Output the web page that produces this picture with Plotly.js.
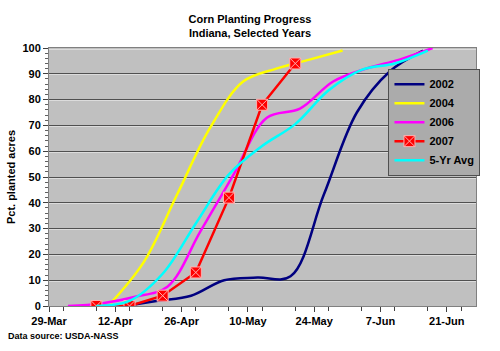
<!DOCTYPE html>
<html>
<head>
<meta charset="utf-8">
<script src="https://cdn.plot.ly/plotly-3.0.1.min.js"></script>
<style>html,body{margin:0;padding:0;background:#fff;}#chart{width:500px;height:351px;}</style>
</head>
<body>
<div id="chart"></div>
<script>
// Dates are each year's weekly report dates, placed on a common month-day axis
const dates2002 = ['2007-04-14','2007-04-21','2007-04-28','2007-05-05','2007-05-12','2007-05-19','2007-05-26','2007-06-02','2007-06-09','2007-06-16'];
const vals2002  = [0, 2, 4, 10, 11, 11.5, 43, 75, 91, 99];

const dates2004 = ['2007-04-11','2007-04-18','2007-04-25','2007-05-02','2007-05-09','2007-05-16','2007-05-23','2007-05-30'];
const vals2004  = [1, 17, 43, 69, 87, 92, 95.5, 99];

const dates2006 = ['2007-04-02','2007-04-09','2007-04-16','2007-04-23','2007-04-30','2007-05-07','2007-05-14','2007-05-21','2007-05-28','2007-06-04','2007-06-11','2007-06-18'];
const vals2006  = [0, 1, 3.5, 7.5, 29, 51, 73, 76.5, 87, 92, 95.5, 100];

const dates2007 = ['2007-04-08','2007-04-15','2007-04-22','2007-04-29','2007-05-06','2007-05-13','2007-05-20'];
const vals2007  = [0, 0, 4, 13, 42, 78, 94];

const datesAvg = ['2007-04-08','2007-04-15','2007-04-22','2007-04-29','2007-05-06','2007-05-13','2007-05-20','2007-05-27','2007-06-03','2007-06-10','2007-06-17'];
const valsAvg  = [0, 2, 12.5, 32, 51, 62, 70.5, 83.5, 91.5, 94, 99];

const seriesNames = ['2002','2004','2006','2007','5-Yr Avg'];

const FONT = 'Liberation Sans, Arial, sans-serif';

const traces = [
  {x: [], y: [], yaxis: 'y2', showlegend: false, hoverinfo: 'skip', mode: 'lines'},
  {x: dates2002, y: vals2002, name: seriesNames[0], mode: 'lines', line: {color: '#000080', width: 2.5, shape: 'spline', smoothing: 1}},
  {x: dates2004, y: vals2004, name: seriesNames[1], mode: 'lines', line: {color: '#FFFF00', width: 2.5, shape: 'spline', smoothing: 1}},
  {x: dates2006, y: vals2006, name: seriesNames[2], mode: 'lines', line: {color: '#FF00FF', width: 2.5, shape: 'spline', smoothing: 1}},
  {x: dates2007, y: vals2007, name: seriesNames[3], mode: 'lines+markers', line: {color: '#FF0000', width: 2.5},
   marker: {symbol: 'square-x', size: 11, color: '#FF0000', line: {color: '#FFB0B0', width: 1}}},
  {x: datesAvg, y: valsAvg, name: seriesNames[4], mode: 'lines', line: {color: '#00FFFF', width: 2.5, shape: 'spline', smoothing: 1}}
];

const layout = {
  width: 500, height: 351,
  margin: {l: 49, r: 24, t: 48, b: 45, pad: 0},
  paper_bgcolor: '#FFFFFF',
  plot_bgcolor: '#C0C0C0',
  font: {family: FONT, size: 11, color: '#000'},
  title: {
    text: 'Corn Planting Progress<br>Indiana, Selected Years',
    font: {family: FONT, size: 11, weight: 'bold', color: '#000'},
    x: 0.5, xref: 'container', xanchor: 'center',
    y: 0.935, yref: 'container', yanchor: 'top'
  },
  xaxis: {
    type: 'date',
    range: ['2007-03-29', '2007-06-27 04:00'],
    tick0: '2007-03-29',
    dtick: 14 * 86400000,
    tickformat: '%-d-%b',
    ticks: 'outside', ticklen: 5, tickcolor: '#404040',
    minor: {dtick: 7 * 86400000, ticks: 'outside', ticklen: 4, tickcolor: '#404040', showgrid: false},
    showgrid: false,
    showline: true, linecolor: '#808080', linewidth: 1, mirror: true,
    tickfont: {family: FONT, size: 11, weight: 'bold', color: '#000'},
    zeroline: false, fixedrange: true
  },
  yaxis: {
    range: [0, 100],
    dtick: 10,
    ticks: 'outside', ticklen: 5, tickcolor: '#404040',
    minor: {dtick: 2, ticks: 'outside', ticklen: 3, tickcolor: '#606060', showgrid: false},
    showgrid: true, gridcolor: '#505050', gridwidth: 1,
    showline: true, linecolor: '#808080', linewidth: 1, mirror: true,
    zeroline: false,
    tickfont: {family: FONT, size: 11, weight: 'bold', color: '#000'},
    title: {text: 'Pct. planted acres', font: {family: FONT, size: 11, weight: 'bold', color: '#000'}, standoff: 4},
    automargin: false, fixedrange: true
  },
  yaxis2: {
    overlaying: 'y', side: 'left',
    range: [0.4, 100.4], dtick: 10,
    showgrid: true, gridcolor: '#DCDCDC', gridwidth: 1,
    showticklabels: false, ticks: '', showline: false, zeroline: false,
    automargin: false, fixedrange: true
  },
  showlegend: true,
  legend: {
    x: 0.795, y: 0.92, xanchor: 'left', yanchor: 'top',
    bgcolor: '#ABABAB', bordercolor: '#505050', borderwidth: 1,
    font: {family: FONT, size: 11, weight: 'bold', color: '#000'},
    tracegroupgap: 0, itemwidth: 30
  },
  annotations: [{
    text: 'Data source: USDA-NASS',
    xref: 'paper', yref: 'paper',
    x: -0.1, y: -0.117, xanchor: 'left', yanchor: 'middle',
    showarrow: false,
    font: {family: FONT, size: 9, weight: 'bold', color: '#000'}
  }]
};

Plotly.newPlot('chart', traces, layout, {displayModeBar: false, staticPlot: true});
</script>
</body>
</html>
